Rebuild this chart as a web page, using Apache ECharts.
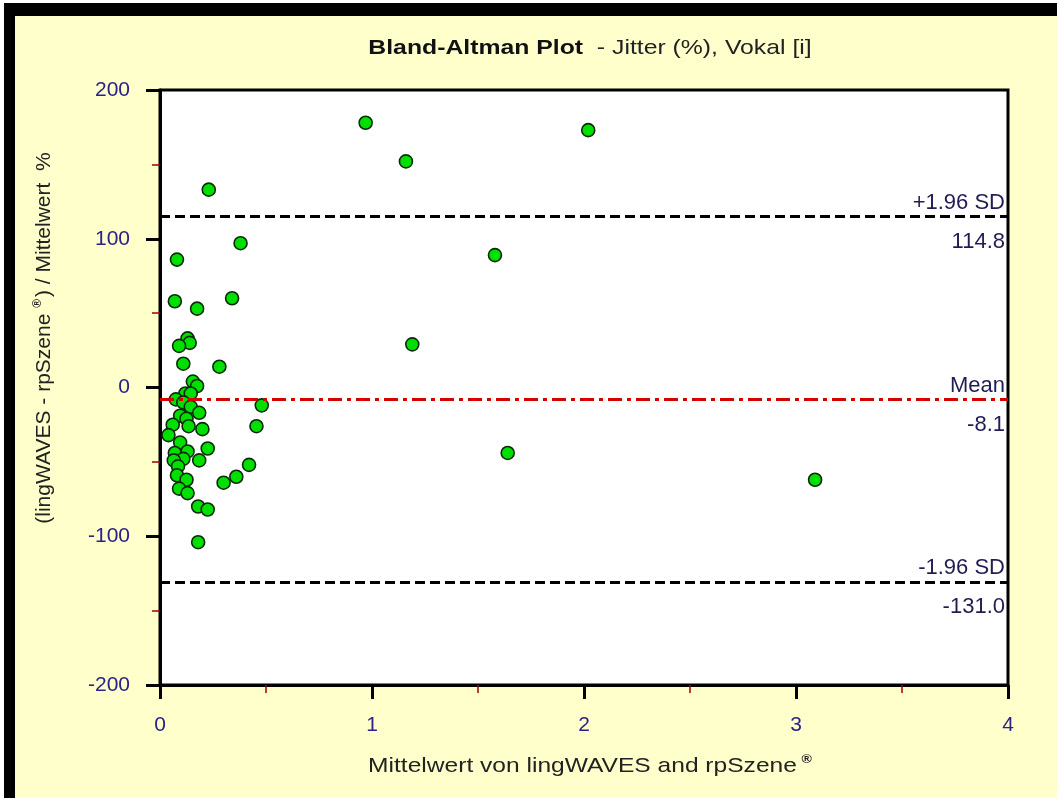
<!DOCTYPE html>
<html>
<head>
<meta charset="utf-8">
<title>Bland-Altman Plot - Jitter (%), Vokal [i]</title>
<script src="https://cdn.jsdelivr.net/npm/echarts@6/dist/echarts.min.js"></script>
<style>
  html, body { margin: 0; padding: 0; background: #ffffff; }
  #chart { width: 1057px; height: 798px; }
</style>
</head>
<body>
<div id="chart"></div>
<script>
// Mean of both methods (x) and relative difference in percent (y), one per recording
const meanX = [
  0.97, 1.16, 2.02, 0.23, 0.38, 0.08, 1.58, 0.07, 0.34, 0.175,
  0.13, 0.14, 0.09, 1.19, 0.28, 0.11, 0.155, 0.175, 0.12, 0.145,
  0.075, 0.11, 0.145, 0.48, 0.185, 0.095, 0.125, 0.135, 0.06, 0.455,
  0.2, 0.04, 0.095, 0.225, 0.13, 0.07, 0.11, 0.185, 0.065, 0.42,
  0.085, 0.36, 0.3, 0.08, 0.125, 0.09, 0.13, 0.18, 0.225, 0.18,
  1.64, 3.09
];
const diffPct = [
  178, 152, 173, 133, 97, 86, 89, 58, 60, 53,
  33, 30, 28, 29, 14, 16, 4, 1, -4, -4,
  -8, -10, -13, -12, -17, -19, -21, -26, -25, -26,
  -28, -32, -37, -41, -43, -44, -48, -49, -49, -52,
  -53, -60, -64, -59, -62, -68, -71, -80, -82, -104,
  -44, -62
];

// Limits of agreement and mean difference
const limitNames = ['+1.96 SD', 'Mean', '-1.96 SD'];
const limitValues = [114.8, -8.1, -131.0];

// Axis ranges
const xRange = { min: 0, max: 4, interval: 1 };
const yRange = { min: -200, max: 200, interval: 100 };

const titleBold = 'Bland-Altman Plot';
const titleRest = '  - Jitter (%), Vokal [i]';
const xTitle = 'Mittelwert von lingWAVES and rpSzene';
const yTitle = '(lingWAVES - rpSzene ';
const yTitleTail = ') / Mittelwert  %';

const FONT = '"Liberation Sans", Arial, sans-serif';
const tickLabelColor = '#2b2288';
const limitLabelColor = '#221c55';

const points = meanX.map((x, i) => [x, diffPct[i]]);

const limitStyles = [
  { color: '#000000', width: 3, type: [10, 5] },
  { color: '#d40000', width: 3, type: [14, 5, 4, 5] },
  { color: '#000000', width: 3, type: [10, 5] }
];

// names above each line, values below it
const lineData = limitValues.map((v, i) => ({
  yAxis: v,
  lineStyle: limitStyles[i],
  label: { position: 'insideEndTop', formatter: limitNames[i], distance: [3, 3] }
}));
const valueData = limitValues.map(v => ({
  yAxis: v,
  label: { position: 'insideEndBottom', formatter: v.toFixed(1), distance: [3, 14] }
}));

const axisCommon = {
  axisLine: { show: true, onZero: false, lineStyle: { color: '#000', width: 3 } },
  axisTick: { show: true, inside: false, length: 14, lineStyle: { color: '#000', width: 3 } },
  minorTick: { show: true, splitNumber: 2, length: 8, lineStyle: { color: '#a00000', width: 1.5 } },
  splitLine: { show: false },
  minorSplitLine: { show: false },
  axisLabel: { color: tickLabelColor, fontFamily: FONT, fontSize: 21 }
};

const limitLabel = { color: limitLabelColor, fontFamily: FONT, fontSize: 22 };

const chart = echarts.init(document.getElementById('chart'), null, { renderer: 'canvas' });

chart.setOption({
  backgroundColor: '#ffffff',
  animation: false,
  graphic: [
    // window background and frame
    { type: 'rect', z: -10, shape: { x: 4, y: 3, width: 1053, height: 795 }, style: { fill: '#000000' } },
    { type: 'rect', z: -9, shape: { x: 15, y: 16, width: 1042, height: 782 }, style: { fill: '#ffffcc' } },
    {
      type: 'text', x: 590, y: 48, scaleX: 1.18, scaleY: 1,
      style: {
        text: '{b|' + titleBold + '}{n|' + titleRest + '}',
        align: 'center', verticalAlign: 'middle',
        rich: {
          b: { fontFamily: FONT, fontSize: 21, fontWeight: 'bold', fill: '#111111' },
          n: { fontFamily: FONT, fontSize: 21, fill: '#222222' }
        }
      }
    },
    {
      type: 'text', x: 590, y: 766, scaleX: 1.17, scaleY: 1,
      style: {
        text: '{a|' + xTitle + '}{s|®}',
        align: 'center', verticalAlign: 'middle',
        rich: {
          a: { fontFamily: FONT, fontSize: 21, fill: '#222222', lineHeight: 24 },
          s: { fontFamily: FONT, fontSize: 12, fontWeight: 'bold', fill: '#222222', verticalAlign: 'top', padding: [0, 0, 12, 4] }
        }
      }
    },
    {
      type: 'text', x: 44, y: 338, rotation: Math.PI / 2,
      style: {
        text: '{a|' + yTitle + '}{s|®}{a|' + yTitleTail + '}',
        align: 'center', verticalAlign: 'middle',
        rich: {
          a: { fontFamily: FONT, fontSize: 21, fill: '#222222', lineHeight: 24 },
          s: { fontFamily: FONT, fontSize: 12, fontWeight: 'bold', fill: '#222222', verticalAlign: 'top', padding: [0, 2, 12, 0] }
        }
      }
    }
  ],
  grid: {
    left: 160, right: 49, top: 90, bottom: 113,
    show: true, backgroundColor: '#ffffff', borderColor: '#000000', borderWidth: 3
  },
  xAxis: Object.assign({}, axisCommon, {
    type: 'value', min: xRange.min, max: xRange.max, interval: xRange.interval,
    axisLabel: Object.assign({}, axisCommon.axisLabel, { margin: 30 })
  }),
  yAxis: Object.assign({}, axisCommon, {
    type: 'value', min: yRange.min, max: yRange.max, interval: yRange.interval,
    axisLabel: Object.assign({}, axisCommon.axisLabel, { margin: 30 })
  }),
  series: [
    {
      type: 'scatter',
      data: points,
      symbol: 'circle',
      symbolSize: 13,
      z: 3,
      itemStyle: { color: '#00e000', borderColor: '#0a2a0a', borderWidth: 1.6, opacity: 1 }
    },
    {
      type: 'scatter',
      data: [],
      z: 5,
      markLine: {
        silent: true,
        symbol: 'none',
        animation: false,
        label: limitLabel,
        emphasis: { disabled: true },
        data: lineData
      }
    },
    {
      type: 'scatter',
      data: [],
      z: 5,
      markLine: {
        silent: true,
        symbol: 'none',
        animation: false,
        lineStyle: { color: 'rgba(0,0,0,0)', width: 1 },
        label: limitLabel,
        emphasis: { disabled: true },
        data: valueData
      }
    }
  ]
});
</script>
</body>
</html>
